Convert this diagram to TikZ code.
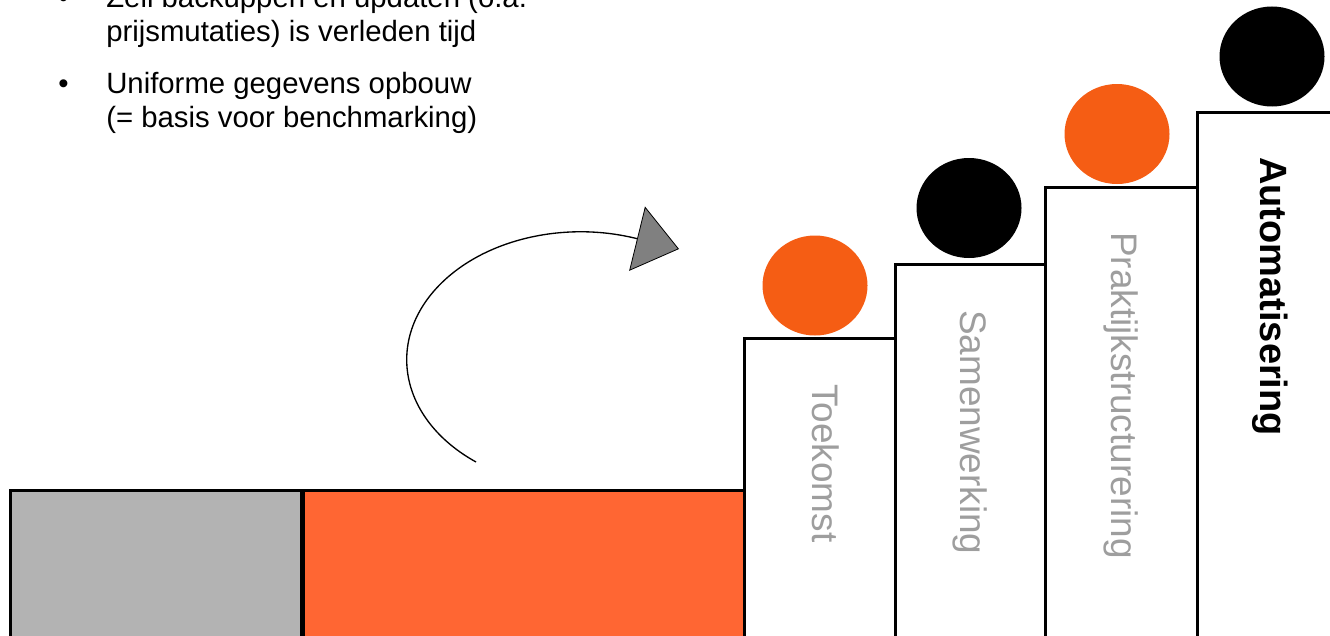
\documentclass[tikz,border=0pt]{standalone}
\usepackage{fontspec}
\setmainfont{Liberation Sans}
\usetikzlibrary{shapes.geometric,arrows.meta}

\definecolor{ballorange}{HTML}{F55D14}
\definecolor{barorange}{HTML}{FF6633}
\definecolor{bargray}{HTML}{B3B3B3}
\definecolor{labelgray}{HTML}{9E9E9E}
\definecolor{tipgray}{HTML}{808080}

\begin{document}
\begin{tikzpicture}[x=0.75pt,y=-0.75pt]
\tikzstyle{stepbox}=[rectangle, draw=black, line width=2.25pt, fill=white, anchor=north west, inner sep=0pt, outer sep=0pt]
\tikzstyle{ball}=[ellipse, minimum width=78.75pt, minimum height=75pt, inner sep=0pt]
\tikzstyle{steplabel}=[rotate=-90, anchor=base west, inner sep=0pt, font=\fontsize{27.7}{33}\selectfont, text=labelgray]
\tikzstyle{itemtext}=[anchor=base west, inner sep=0pt, font=\fontsize{22}{26}\selectfont]
\tikzstyle{bar}=[draw=black, line width=2.25pt]
\tikzstyle{turnarrow}=[line width=1pt, -{Triangle[length=32.4pt, width=49.6pt, fill=tipgray, line width=0.6pt]}]
\clip (0,0) rectangle (1330,635);

	% text top left
	\node[itemtext] (dot1) at (58,8) {•};
	\node[itemtext] (line1) at (106,8) {Zeil backuppen en updaten (o.a.};
	\node[itemtext] (line2) at (106,42) {prijsmutaties) is verleden tijd};
	\node[itemtext] (dot2) at (58,93.5) {•};
	\node[itemtext] (line3) at (106,93.5) {Uniforme gegevens opbouw};
	\node[itemtext] (line4) at (106,127) {(= basis voor benchmarking)};

	% bars
	\draw[bar, fill=bargray] (10,490) rectangle (301.5,650);
	\draw[bar, fill=barorange] (303.6,490) rectangle (744,650);

	% steps
	\node[stepbox, minimum width=113.25pt, minimum height=240pt] (step1) at (744,338) {};
	\node[stepbox, minimum width=112.5pt, minimum height=300pt] (step2) at (895,264) {};
	\node[stepbox, minimum width=114pt, minimum height=345pt] (step3) at (1045,187) {};
	\node[stepbox, minimum width=120pt, minimum height=405pt] (step4) at (1197,112) {};

	\node[steplabel] (toekomst) at (812,384) {Toekomst};
	\node[steplabel] (samenwerking) at (960,310) {Samenwerking};
	\node[steplabel] (praktijk) at (1111,232) {Praktijkstructurering};
	\node[steplabel, text=black, font=\fontsize{28.5}{34}\selectfont\bfseries] (automatisering) at (1260,157) {Automatisering};

	% balls
	\node[ball, fill=ballorange] (ball1) at (815,285.5) {};
	\node[ball, fill=black] (ball2) at (969,208) {};
	\node[ball, fill=ballorange] (ball3) at (1117,134) {};
	\node[ball, fill=black] (ball4) at (1272,56.5) {};

	% arrow
	\coordinate (turnstart) at (476,462);
	\coordinate (turntip) at (679,249);
	\draw[turnarrow] (turnstart) arc[start angle=127, end angle=289, x radius=174, y radius=128] -- (turntip);

\end{tikzpicture}
\end{document}
